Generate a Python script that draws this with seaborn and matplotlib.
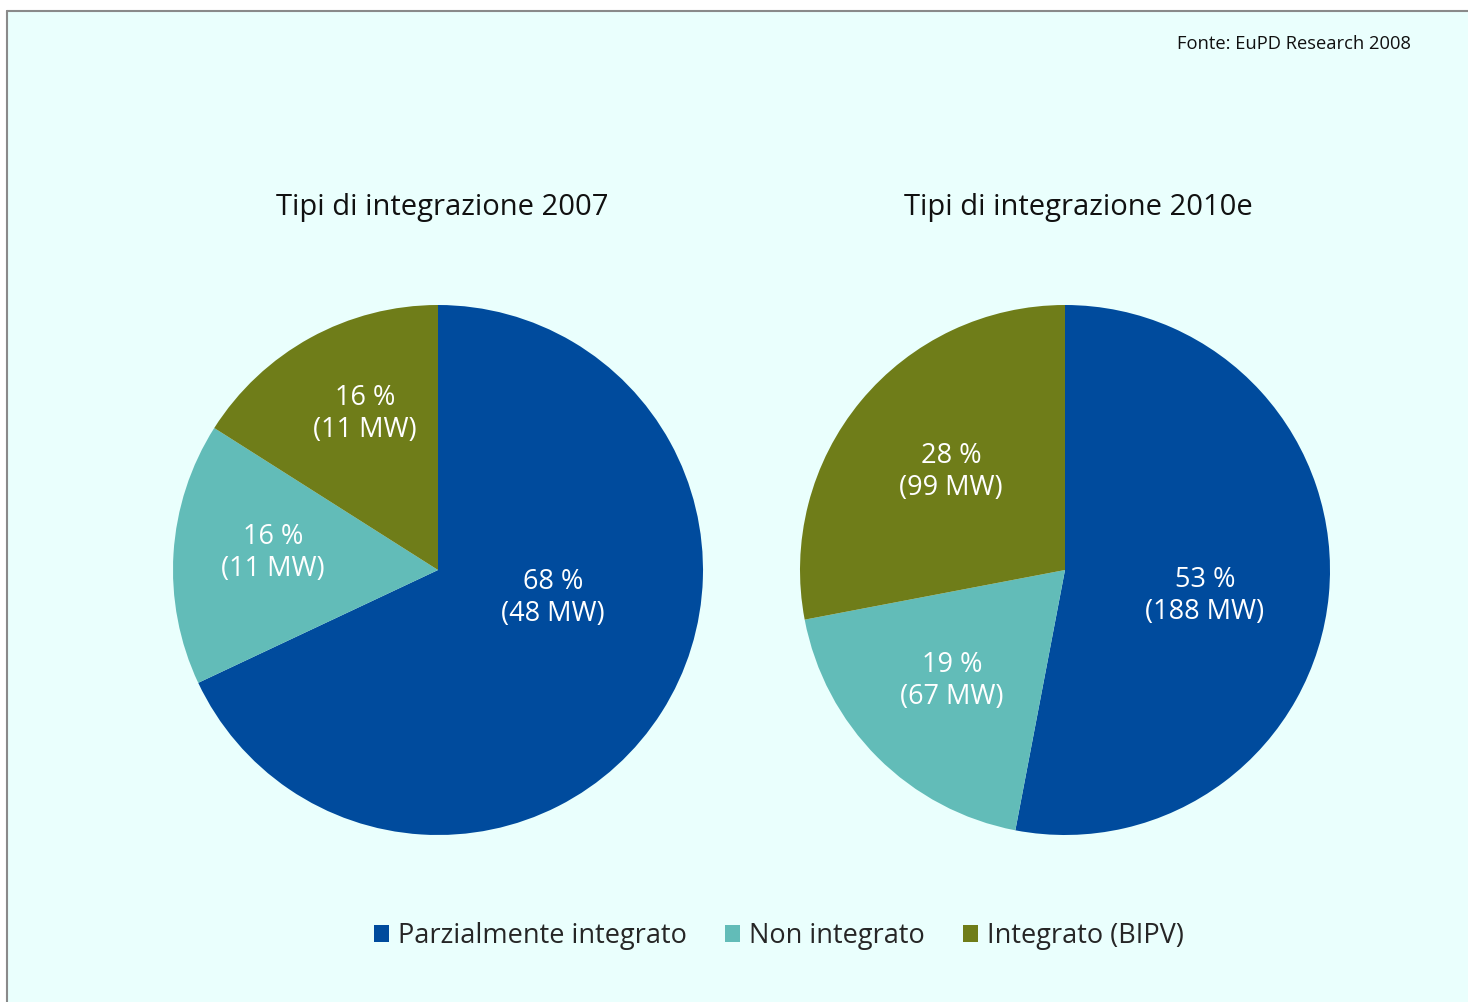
import matplotlib
matplotlib.use("Agg")
import matplotlib.pyplot as plt
import seaborn as sns
from matplotlib.patches import Rectangle, Patch
from matplotlib.lines import Line2D

# ---- data ----
categories = ["Parzialmente integrato", "Non integrato", "Integrato (BIPV)"]
pct_2007 = [68, 16, 16]
mw_2007 = [48, 11, 11]
pct_2010 = [53, 19, 28]
mw_2010 = [188, 67, 99]
titles = ["Tipi di integrazione 2007", "Tipi di integrazione 2010e"]
source = "Fonte: EuPD Research 2008"

sns.set_theme(style="white")
plt.rcParams['font.family'] = ['Open Sans', 'DejaVu Sans']

colors = sns.color_palette(["#004B9D", "#62BCB8", "#6F7D19"])
bg = "#EAFFFD"

W, H = 1468, 1002
fig = plt.figure(figsize=(W / 100, H / 100), dpi=100, facecolor="white")

# background panel + border
fig.patches.append(Rectangle((7 / W, 0), 1 - 7 / W, 1 - 11 / H, transform=fig.transFigure,
                             facecolor=bg, edgecolor="none", zorder=-10))
fig.lines.append(Line2D([7 / W, 1], [1 - 11 / H, 1 - 11 / H], transform=fig.transFigure,
                        color="#8a8a8a", lw=1.5, zorder=-5))
fig.lines.append(Line2D([7 / W, 7 / W], [0, 1 - 11 / H], transform=fig.transFigure,
                        color="#8a8a8a", lw=1.5, zorder=-5))

R = 265
pies = [
    (438, 570, pct_2007, mw_2007, [(0.434, -0.106), (-0.623, 0.064), (-0.275, 0.589)], (442, 207)),
    (1065, 570, pct_2010, mw_2010, [(0.528, -0.098), (-0.426, -0.419), (-0.430, 0.370)], (1078, 207)),
]

for i, (cx, cy, pct, mw, lpos, tpos) in enumerate(pies):
    ax = fig.add_axes([(cx - R) / W, 1 - (cy + R) / H, 2 * R / W, 2 * R / H])
    ax.patch.set_visible(False)
    ax.pie(pct, colors=colors, startangle=90, counterclock=False, radius=1,
           wedgeprops=dict(linewidth=0))
    ax.set_xlim(-1, 1)
    ax.set_ylim(-1, 1)
    ax.set_aspect("equal")
    ax.axis("off")
    for p, m, (lx, ly) in zip(pct, mw, lpos):
        ax.text(lx, ly, f"{p} %\n({m} MW)", color="white", ha="center", va="center",
                fontsize=19.5, linespacing=1.2)
    fig.text(tpos[0] / W, 1 - tpos[1] / H, titles[i], ha="center", va="center",
             fontsize=21, color="#111111")

fig.text(1411 / W, 1 - 44 / H, source, ha="right", va="center", fontsize=13.2, color="#111111")

handles = [Patch(facecolor=c, edgecolor="none") for c in colors]
fig.legend(handles, categories, loc="center", bbox_to_anchor=(779 / W, 1 - 936 / H),
           ncol=3, frameon=False, fontsize=19.5, handlelength=0.55, handleheight=0.55,
           handletextpad=0.35, columnspacing=1.4)

fig.savefig("out.png", dpi=100, facecolor="white")
